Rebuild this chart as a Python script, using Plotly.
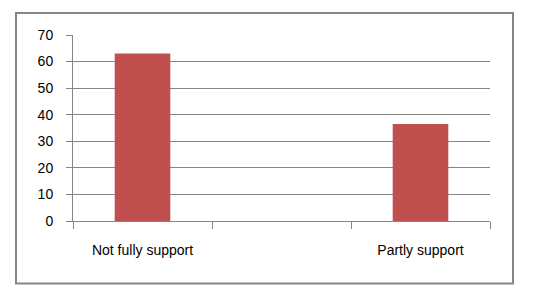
import plotly.graph_objects as go

categories = ["Not fully support", " ", "Partly support"]
values = [63, None, 36.5]
y_ticks = [0, 10, 20, 30, 40, 50, 60, 70]

GRID = "#868686"
FONT = dict(family="Liberation Sans, Arial, sans-serif", size=14, color="#000000")

fig = go.Figure(
    go.Bar(
        x=categories,
        y=values,
        marker=dict(color="#C0504D", line=dict(width=0)),
        hoverinfo="x+y",
    )
)

fig.update_layout(
    width=541,
    height=291,
    margin=dict(l=73, r=51, t=35, b=70),
    paper_bgcolor="white",
    plot_bgcolor="white",
    bargap=0.6,
    showlegend=False,
    font=FONT,
    shapes=[
        dict(
            type="rect",
            xref="paper",
            yref="paper",
            x0=(16 - 73) / 417,
            x1=(513 - 73) / 417,
            y0=(221 - 283.5) / 186,
            y1=(221 - 13) / 186,
            line=dict(color=GRID, width=2),
            fillcolor="rgba(0,0,0,0)",
            layer="below",
        )
    ],
)

fig.update_xaxes(
    type="category",
    categoryorder="array",
    categoryarray=categories,
    tickson="boundaries",
    ticks="outside",
    ticklen=7,
    tickcolor=GRID,
    showline=True,
    linecolor=GRID,
    linewidth=1,
    showgrid=False,
    ticklabelstandoff=16,
    tickfont=FONT,
    fixedrange=True,
)

fig.update_yaxes(
    range=[0, 70],
    tickvals=y_ticks,
    ticks="outside",
    ticklen=6,
    tickcolor=GRID,
    showline=True,
    linecolor=GRID,
    linewidth=1,
    showgrid=True,
    gridcolor=GRID,
    gridwidth=1,
    zeroline=False,
    ticklabelstandoff=10,
    tickfont=FONT,
    fixedrange=True,
)

fig.write_html(
    "out.html",
    config={"displayModeBar": False},
    post_script="document.body.style.margin='0';document.body.style.padding='0';",
)
